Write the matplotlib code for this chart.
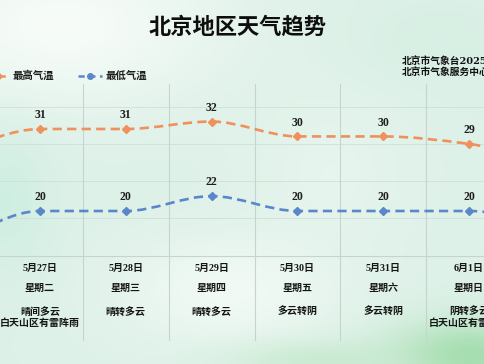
import numpy as np
import matplotlib
matplotlib.use("Agg")
import matplotlib.pyplot as plt
from matplotlib.path import Path
from matplotlib.patches import PathPatch
from matplotlib.lines import Line2D
from matplotlib.transforms import blended_transform_factory

plt.rcParams['font.family'] = ['Noto Sans CJK SC', 'DejaVu Sans']

# data
dates = ['5月27日', '5月28日', '5月29日', '5月30日', '5月31日', '6月1日']
weekdays = ['星期二', '星期三', '星期四', '星期五', '星期六', '星期日']
weather = ['晴间多云\n白天山区有雷阵雨', '晴转多云', '晴转多云', '多云转阴', '多云转阴', '阴转多云\n白天山区有雷阵雨']
high_temp = [31, 31, 32, 30, 30, 29]
low_temp = [20, 20, 22, 20, 20, 20]
# neighbouring days, only partly visible at the edges
high_edge = [28, 26]
low_edge = [16, 18]

title = '北京地区天气趋势'
source = ['北京市气象台2025年5月26日', '北京市气象服务中心']

W, H = 485, 364
fig = plt.figure(figsize=(W / 100, H / 100), dpi=100)
ax = fig.add_axes([0, 0, 1, 1])

step = 85.8
xmin = -40 / step
xmax = xmin + W / step
ymin, ymax = -0.52, 48.3
ax.set_xlim(xmin, xmax)
ax.set_ylim(ymin, ymax)
ax.axis('off')

# background wash
yy, xx = np.mgrid[0:H, 0:W]
img = np.ones((H, W, 3)) * np.array([0.87, 0.945, 0.91])
def blob(cx, cy, r, col, a):
    g = a * np.exp(-(((xx - cx) / r[0]) ** 2 + ((yy - cy) / r[1]) ** 2))
    for k in range(3):
        img[..., k] = img[..., k] * (1 - g) + col[k] * g
blob(60, 25, (160, 80), (0.985, 0.995, 0.985), 0.85)
blob(230, 290, (110, 55), (0.97, 0.99, 0.975), 0.75)
blob(330, 170, (80, 80), (0.95, 0.985, 0.96), 0.4)
blob(5, 200, (45, 70), (0.79, 0.93, 0.88), 0.7)
blob(470, 355, (80, 35), (0.62, 0.86, 0.66), 0.9)
blob(320, 360, (90, 20), (0.76, 0.91, 0.79), 0.7)
blob(440, 40, (90, 45), (0.83, 0.935, 0.885), 0.6)
ax.imshow(img, extent=[xmin, xmax, ymin, ymax], aspect='auto', zorder=0)

def fy(p):
    return 1 - p / H

# grid
for t in [19, 24, 29, 34]:
    ax.axhline(t, color='#d0e0d6', lw=0.6, zorder=1)
ax.axhline(14, color='#c6d4cb', lw=0.8, zorder=1)
for i in range(len(dates) - 1):
    ax.axvline(i + 0.5, ymin=fy(340), ymax=fy(84), color='#c6d4cb', lw=0.8, zorder=1)

def smooth_path(xs, ys):
    xs = np.asarray(xs, float)
    ys = np.asarray(ys, float)
    d = np.diff(ys)
    m = np.zeros_like(ys)
    m[0], m[-1] = d[0], d[-1]
    for k in range(1, len(ys) - 1):
        if d[k - 1] * d[k] > 0:
            m[k] = 2 / (1 / d[k - 1] + 1 / d[k])
    verts = [(xs[0], ys[0])]
    codes = [Path.MOVETO]
    for k in range(len(xs) - 1):
        h = xs[k + 1] - xs[k]
        verts += [(xs[k] + h / 3, ys[k] + m[k] * h / 3),
                  (xs[k + 1] - h / 3, ys[k + 1] - m[k + 1] * h / 3),
                  (xs[k + 1], ys[k + 1])]
        codes += [Path.CURVE4] * 3
    return Path(verts, codes)

x = np.arange(len(dates))
xs_all = np.arange(-1, len(dates) + 1)
series = [(high_temp, high_edge, '#ee915c'), (low_temp, low_edge, '#5a87c9')]
for vals, edge, col in series:
    ys_all = [edge[0]] + vals + [edge[1]]
    ax.add_patch(PathPatch(smooth_path(xs_all, ys_all), fill=False, edgecolor=col,
                           lw=1.9, linestyle=(0, (3.5, 2)), zorder=3))
    ax.plot(x, vals, linestyle='none', marker='D', ms=4, color=col, zorder=4)
    for i, v in enumerate(vals):
        ax.annotate(str(v), (i, v), xytext=(0, 10), textcoords='offset points',
                    ha='center', va='center', fontsize=8.5, fontweight='bold',
                    family=['Liberation Serif'], color='#1e1e1e', zorder=5)

# table below the chart
tr = blended_transform_factory(ax.transData, ax.transAxes)
for i in range(len(dates)):
    ax.text(i, fy(268), dates[i], transform=tr, ha='center', va='center', fontsize=7.2,
            fontweight='bold', family=['Liberation Serif', 'Noto Sans CJK SC'], color='#151515')
    ax.text(i, fy(288), weekdays[i], transform=tr, ha='center', va='center', fontsize=7.2,
            fontweight='bold', color='#151515')
    ax.text(i, fy(307), weather[i], transform=tr, ha='center', va='top', fontsize=7.2,
            fontweight='bold', color='#151515', linespacing=1.15)

# title, legend, source
fig.text(237.5 / W, fy(27), title, ha='center', va='center', fontsize=16,
         fontweight='bold', color='#0e0e0e')
for x0, col, label in [(-15, '#ee915c', '最高气温'), (78, '#5a87c9', '最低气温')]:
    fig.add_artist(Line2D([x0 / W, (x0 + 24) / W], [fy(75.5)] * 2, transform=fig.transFigure,
                          color=col, lw=1.8, linestyle=(0, (2.5, 1.8))))
    fig.add_artist(Line2D([(x0 + 12.5) / W], [fy(75.5)], transform=fig.transFigure,
                          color=col, marker='o', ms=4))
    fig.text((x0 + 28) / W, fy(75.5), label, ha='left', va='center', fontsize=7.5,
             fontweight='bold', color='#1e1e1e')
fig.text(402 / W, fy(61.5), source[0], ha='left', va='center', fontsize=7,
         fontweight='bold', family=['DejaVu Serif', 'Noto Sans CJK SC'], color='#111111')
fig.text(402 / W, fy(71.5), source[1], ha='left', va='center', fontsize=7,
         fontweight='bold', color='#111111')

fig.savefig('out.png', dpi=100)
